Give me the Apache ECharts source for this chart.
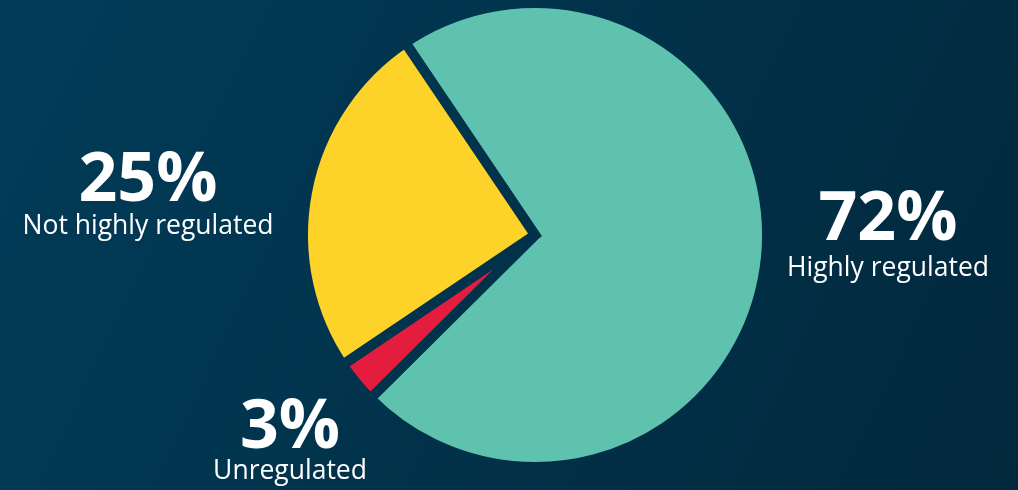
<!DOCTYPE html>
<html>
<head>
<meta charset="utf-8">
<title>Regulation share</title>
<script src="https://cdn.jsdelivr.net/npm/echarts@6/dist/echarts.min.js"></script>
<style>
  html, body { margin: 0; padding: 0; }
  #chart { width: 1018px; height: 490px; }
</style>
</head>
<body>
<div id="chart"></div>
<script>
// Share of activity by regulation level (percent), in clockwise order from the top
const categories = ['Highly regulated', 'Unregulated', 'Not highly regulated'];
const values = [72, 3, 25];
const colors = ['#5EC2AE', '#E41C3D', '#FDD229'];

// Where each category's caption sits: [x, percent middle y, name middle y]
const captionSpots = [
  [888, 221, 268],
  [290, 429, 471],
  [148, 182, 226]
];

const W = 1018, H = 490;
// Same gradient for the page and for the slice borders, so the gaps read as background
const bg = {
  type: 'linear', x: 0, y: 0, x2: W, y2: H, global: true,
  colorStops: [
    { offset: 0, color: '#013C59' },
    { offset: 1, color: '#02283C' }
  ]
};

const font = '"Open Sans", "Noto Sans", sans-serif';
const graphics = [];
categories.forEach((name, i) => {
  const [x, yPct, yName] = captionSpots[i];
  graphics.push({
    type: 'text', x: x, y: yPct, silent: true,
    style: {
      text: values[i] + '%', fill: '#ffffff',
      font: 'bold 68px ' + font, align: 'center', verticalAlign: 'middle'
    }
  });
  graphics.push({
    type: 'text', x: x, y: yName, silent: true,
    style: {
      text: name, fill: '#ffffff',
      font: '26.5px ' + font, align: 'center', verticalAlign: 'middle'
    }
  });
});

const chart = echarts.init(document.getElementById('chart'), null, { renderer: 'canvas' });
chart.setOption({
  animation: false,
  backgroundColor: bg,
  graphic: graphics,
  series: [{
    type: 'pie',
    center: [535, 235],
    radius: [0, 232],
    startAngle: 124,
    clockwise: true,
    silent: true,
    label: { show: false },
    labelLine: { show: false },
    itemStyle: { borderColor: bg, borderWidth: 10, borderJoin: 'miter', borderMiterLimit: 4 },
    data: categories.map((name, i) => ({
      name: name, value: values[i], itemStyle: { color: colors[i] }
    }))
  }]
});
</script>
</body>
</html>
